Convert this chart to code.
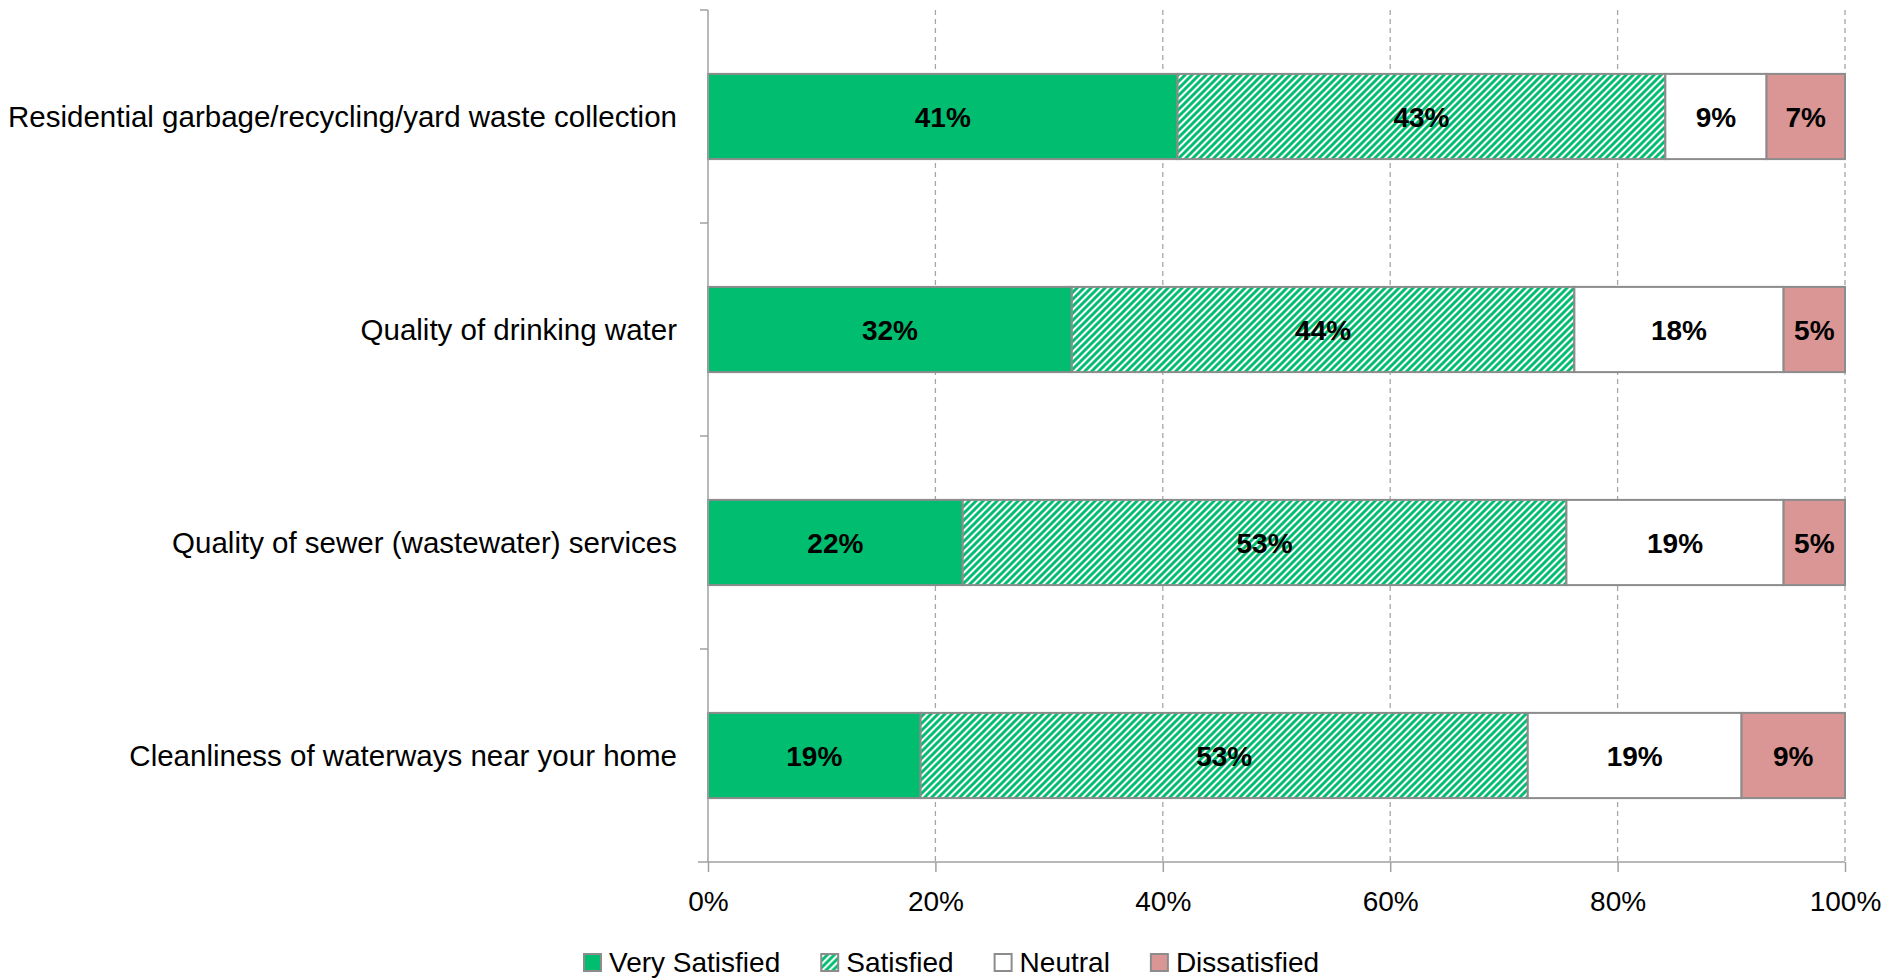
<!DOCTYPE html>
<html>
<head>
<meta charset="utf-8">
<script src="https://cdn.jsdelivr.net/npm/d3@7"></script>
<style>
  html, body { margin: 0; padding: 0; background: #fff; }
  svg { display: block; font-family: "Liberation Sans", Arial, sans-serif; }
</style>
</head>
<body>
<div id="chart"></div>
<script>
const categories = [
  "Residential garbage/recycling/yard waste collection",
  "Quality of drinking water",
  "Quality of sewer (wastewater) services",
  "Cleanliness of waterways near your home"
]
const seriesNames = ["Very Satisfied", "Satisfied", "Neutral", "Dissatisfied"]
const verySatisfied = [41.3, 32.0, 22.4, 18.7]
const satisfied = [42.9, 44.2, 53.1, 53.4]
const neutral = [8.9, 18.4, 19.1, 18.8]
const dissatisfied = [6.9, 5.4, 5.4, 9.1]
const xTicks = [0, 20, 40, 60, 80, 100]

const width = 1885
const height = 980
const margin = { top: 10, right: 40, bottom: 118, left: 708 }

const green = "#00bd6f"
const pink = "#d99694"
const edge = "#8c8c8c"

const rows = categories.map((c, i) => ({
  category: c,
  "Very Satisfied": verySatisfied[i],
  Satisfied: satisfied[i],
  Neutral: neutral[i],
  Dissatisfied: dissatisfied[i]
}))

const stacked = d3.stack().keys(seriesNames)(rows)

const x = d3
  .scaleLinear()
  .domain([0, 100])
  .range([margin.left, width - margin.right])

const y = d3
  .scaleBand()
  .domain(categories)
  .range([margin.top, height - margin.bottom])
  .paddingInner(0.6)
  .paddingOuter(0.3)

const svg = d3
  .select("#chart")
  .append("svg")
  .attr("width", width)
  .attr("height", height)

const defs = svg.append("defs")
const pat = defs
  .append("pattern")
  .attr("id", "hatch")
  .attr("patternUnits", "userSpaceOnUse")
  .attr("width", 7)
  .attr("height", 7)
pat.append("rect").attr("width", 7).attr("height", 7).attr("fill", "#fff")
pat
  .append("path")
  .attr("d", "M-2,2 L2,-2 M0,7 L7,0 M5,9 L9,5")
  .attr("stroke", green)
  .attr("stroke-width", 2.9)

const fills = {
  "Very Satisfied": green,
  Satisfied: "url(#hatch)",
  Neutral: "#fff",
  Dissatisfied: pink
}

const plotTop = margin.top
const plotBottom = height - margin.bottom

// dashed gridlines
svg
  .append("g")
  .selectAll("line")
  .data(xTicks.filter((d) => d > 0))
  .enter()
  .append("line")
  .attr("x1", (d) => x(d))
  .attr("x2", (d) => x(d))
  .attr("y1", plotTop)
  .attr("y2", plotBottom)
  .attr("stroke", "#a6a6a6")
  .attr("stroke-width", 1.3)
  .attr("stroke-dasharray", "5,4")

// bars
const layer = svg
  .append("g")
  .selectAll("g")
  .data(stacked)
  .enter()
  .append("g")
  .attr("fill", (d) => fills[d.key])

layer
  .selectAll("rect")
  .data((d) => d)
  .enter()
  .append("rect")
  .attr("x", (d) => x(d[0]))
  .attr("y", (d) => y(d.data.category))
  .attr("width", (d) => x(d[1]) - x(d[0]))
  .attr("height", y.bandwidth())
  .attr("stroke", edge)
  .attr("stroke-width", 2)

// value labels
layer
  .selectAll("text")
  .data((d) => d)
  .enter()
  .append("text")
  .attr("x", (d) => (x(d[0]) + x(d[1])) / 2)
  .attr("y", (d) => y(d.data.category) + y.bandwidth() / 2)
  .attr("dy", "0.36em")
  .attr("text-anchor", "middle")
  .attr("font-size", 28)
  .attr("font-weight", "bold")
  .attr("fill", "#000")
  .text((d) => Math.round(d[1] - d[0]) + "%")

// x axis
const xAxis = svg
  .append("g")
  .attr("transform", `translate(0,${plotBottom})`)
  .call(
    d3
      .axisBottom(x)
      .tickValues(xTicks)
      .tickSize(10)
      .tickPadding(19)
      .tickFormat((d) => d + "%")
  )
xAxis.select(".domain").attr("stroke", "#a0a0a0").attr("stroke-width", 1.5).attr("d", `M${margin.left - 10},0H${x(100)}`)
xAxis.selectAll(".tick line").attr("stroke", "#a0a0a0").attr("stroke-width", 1.5)
xAxis
  .selectAll(".tick text")
  .attr("font-size", 28)
  .attr("fill", "#000")
  .attr("font-family", "Liberation Sans, Arial, sans-serif")

// y axis with ticks at band boundaries
const yAxisG = svg.append("g")
yAxisG
  .append("line")
  .attr("x1", margin.left)
  .attr("x2", margin.left)
  .attr("y1", plotTop)
  .attr("y2", plotBottom)
  .attr("stroke", "#a0a0a0")
  .attr("stroke-width", 1.5)
const boundaries = categories.map((c) => y(c) - (y.step() * y.paddingInner()) / 2)
yAxisG
  .selectAll(".bt")
  .data(boundaries)
  .enter()
  .append("line")
  .attr("x1", margin.left - 8)
  .attr("x2", margin.left)
  .attr("y1", (d) => d)
  .attr("y2", (d) => d)
  .attr("stroke", "#a0a0a0")
  .attr("stroke-width", 1.5)

yAxisG
  .selectAll("text")
  .data(categories)
  .enter()
  .append("text")
  .attr("x", margin.left - 31)
  .attr("y", (d) => y(d) + y.bandwidth() / 2)
  .attr("dy", "0.36em")
  .attr("text-anchor", "end")
  .attr("font-size", 29.5)
  .attr("fill", "#000")
  .text((d) => d)

// legend
const legend = svg.append("g").attr("transform", `translate(583,962)`)
let lx = 0
seriesNames.forEach((name) => {
  const g = legend.append("g").attr("transform", `translate(${lx},0)`)
  g.append("rect")
    .attr("x", 1)
    .attr("y", -8)
    .attr("width", 17)
    .attr("height", 17)
    .attr("fill", fills[name])
    .attr("stroke", edge)
    .attr("stroke-width", 2)
  const t = g
    .append("text")
    .attr("x", 26)
    .attr("y", 0)
    .attr("dy", "0.36em")
    .attr("font-size", 28)
    .attr("fill", "#000")
    .text(name)
  lx += 26 + t.node().getComputedTextLength() + 40
})
</script>
</body>
</html>
